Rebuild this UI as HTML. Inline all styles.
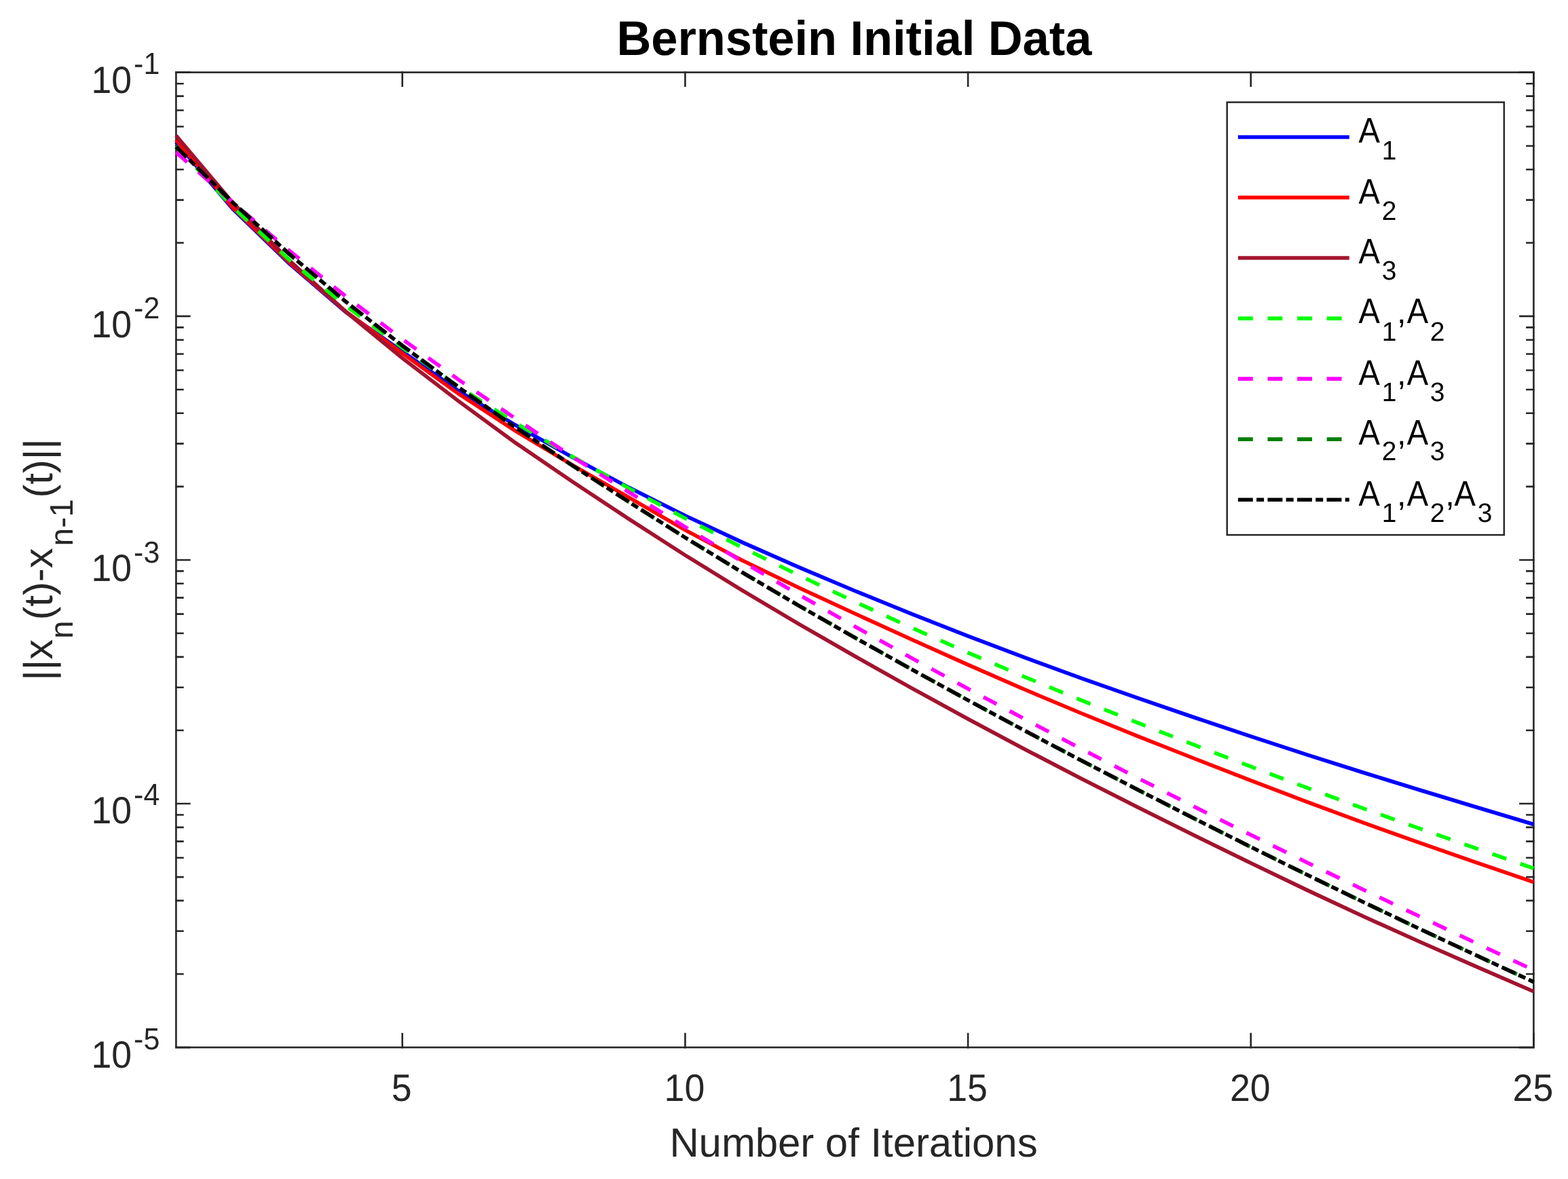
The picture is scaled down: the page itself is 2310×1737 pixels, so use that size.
<!DOCTYPE html>
<html lang="en"><head><meta charset="utf-8"><title>Bernstein Initial Data</title>
<style>html,body{margin:0;padding:0;background:#fff}svg{display:block}text{font-family:"Liberation Sans",sans-serif;font-kerning:none;text-rendering:geometricPrecision;white-space:pre}.ax{fill:#262626}.bk{fill:#000}.b{font-weight:bold}</style></head><body>
<svg xmlns="http://www.w3.org/2000/svg" width="2310" height="1737" viewBox="0 0 2310 1737">
<rect width="2310" height="1737" fill="#fff"/>
<g stroke="#262626" stroke-width="2.6" stroke-linecap="square" fill="none">
<path d="M592.73 1543.1V1523.1M592.73 106.6V126.6M1009.4 1543.1V1523.1M1009.4 106.6V126.6M1426.07 1543.1V1523.1M1426.07 106.6V126.6M1842.73 1543.1V1523.1M1842.73 106.6V126.6M2259.4 1543.1V1523.1M2259.4 106.6V126.6M259.4 106.6H279.4M2259.4 106.6H2239.4M259.4 465.91H279.4M2259.4 465.91H2239.4M259.4 357.82H269.4M2259.4 357.82H2249.4M259.4 294.6H269.4M2259.4 294.6H2249.4M259.4 249.74H269.4M2259.4 249.74H2249.4M259.4 214.94H269.4M2259.4 214.94H2249.4M259.4 186.51H269.4M2259.4 186.51H2249.4M259.4 162.47H269.4M2259.4 162.47H2249.4M259.4 141.65H269.4M2259.4 141.65H2249.4M259.4 123.28H269.4M2259.4 123.28H2249.4M259.4 824.98H279.4M2259.4 824.98H2239.4M259.4 716.89H269.4M2259.4 716.89H2249.4M259.4 653.66H269.4M2259.4 653.66H2249.4M259.4 608.8H269.4M2259.4 608.8H2249.4M259.4 574H269.4M2259.4 574H2249.4M259.4 545.57H269.4M2259.4 545.57H2249.4M259.4 521.53H269.4M2259.4 521.53H2249.4M259.4 500.71H269.4M2259.4 500.71H2249.4M259.4 482.34H269.4M2259.4 482.34H2249.4M259.4 1184.04H279.4M2259.4 1184.04H2239.4M259.4 1075.95H269.4M2259.4 1075.95H2249.4M259.4 1012.72H269.4M2259.4 1012.72H2249.4M259.4 967.86H269.4M2259.4 967.86H2249.4M259.4 933.06H269.4M2259.4 933.06H2249.4M259.4 904.63H269.4M2259.4 904.63H2249.4M259.4 880.59H269.4M2259.4 880.59H2249.4M259.4 859.77H269.4M2259.4 859.77H2249.4M259.4 841.4H269.4M2259.4 841.4H2249.4M259.4 1543.1H279.4M2259.4 1543.1H2239.4M259.4 1435.01H269.4M2259.4 1435.01H2249.4M259.4 1371.78H269.4M2259.4 1371.78H2249.4M259.4 1326.92H269.4M2259.4 1326.92H2249.4M259.4 1292.13H269.4M2259.4 1292.13H2249.4M259.4 1263.7H269.4M2259.4 1263.7H2249.4M259.4 1239.66H269.4M2259.4 1239.66H2249.4M259.4 1218.83H269.4M2259.4 1218.83H2249.4M259.4 1200.47H269.4M2259.4 1200.47H2249.4"/>
</g>
<rect x="259.4" y="106.6" width="2000" height="1436.5" fill="none" stroke="#262626" stroke-width="2.6"/>
<g fill="none" stroke-width="5.6" stroke-linejoin="miter" stroke-linecap="butt">
<polyline points="259.4,209.3 342.73,307.6 426.07,388.1 509.4,459.7 592.73,517.9 676.07,576.3 759.4,626.3 842.73,673.4 926.07,718.1 1009.4,759.7 1092.73,798.62 1176.07,835.39 1259.4,870.5 1342.73,904.36 1426.07,937.06 1509.4,968.6 1592.73,999.01 1676.07,1028.42 1759.4,1057 1842.73,1084.87 1926.07,1112.05 2009.4,1138.5 2092.73,1164.25 2176.07,1189.5 2259.4,1214.5" stroke="#0000ff"/>
<polyline points="259.4,205.9 342.73,305.6 426.07,386.5 509.4,458.9 592.73,520.4 676.07,580.4 759.4,634.9 842.73,684.8 926.07,732.6 1009.4,780.9 1092.73,825.17 1176.07,865.57 1259.4,904 1342.73,941.98 1426.07,979.42 1509.4,1015.8 1592.73,1050.77 1676.07,1084.55 1759.4,1117.5 1842.73,1149.9 1926.07,1181.61 2009.4,1212.4 2092.73,1242.14 2176.07,1271.11 2259.4,1299.7" stroke="#ff0000"/>
<polyline points="259.4,199.9 342.73,298.5 426.07,383.6 509.4,459.2 592.73,527.6 676.07,591.4 759.4,652.4 842.73,709.2 926.07,764.4 1009.4,818 1092.73,869.4 1176.07,918.86 1259.4,966.8 1342.73,1013.59 1426.07,1059.24 1509.4,1103.7 1592.73,1146.96 1676.07,1189.21 1759.4,1230.7 1842.73,1271.57 1926.07,1311.61 2009.4,1350.5 2092.73,1388.07 2176.07,1424.68 2259.4,1460.8" stroke="#a2142f"/>
<polyline points="259.4,215.3 342.73,304.7 426.07,382.9 509.4,450.5 592.73,512.1 676.07,570 759.4,622.8 842.73,672.5 926.07,719.1 1009.4,763.6 1092.73,806.24 1176.07,847.16 1259.4,886.6 1342.73,924.73 1426.07,961.6 1509.4,997.2 1592.73,1031.57 1676.07,1064.93 1759.4,1097.5 1842.73,1129.48 1926.07,1160.82 2009.4,1191.4 2092.73,1221.18 2176.07,1250.39 2259.4,1279.3" stroke="#00ff00" stroke-dasharray="21.9 21.7"/>
<polyline points="259.4,224.4 342.73,298 426.07,369.3 509.4,436.7 592.73,499.7 676.07,559.7 759.4,616.6 842.73,672.7 926.07,724.8 1009.4,776.5 1092.73,826.88 1176.07,875.61 1259.4,923 1342.73,969.33 1426.07,1014.73 1509.4,1059.3 1592.73,1103.11 1676.07,1146.18 1759.4,1188.5 1842.73,1230.08 1926.07,1270.96 2009.4,1311.2 2092.73,1350.86 2176.07,1390.13 2259.4,1429.2" stroke="#ff00ff" stroke-dasharray="21.9 21.7"/>
<polyline points="259.4,216.2 342.73,298 426.07,374.2 509.4,444.5 592.73,509.2 676.07,570.9 759.4,629.7 842.73,685.5 926.07,739.2 1009.4,792 1092.73,842.86 1176.07,891.83 1259.4,939.4 1342.73,985.97 1426.07,1031.63 1509.4,1076.4 1592.73,1120.3 1676.07,1163.42 1759.4,1205.9 1842.73,1247.81 1926.07,1289.05 2009.4,1329.5 2092.73,1369.09 2176.07,1408.05 2259.4,1446.7" stroke="#007f00" stroke-dasharray="21.9 21.7"/>
<polyline points="259.4,216.2 342.73,298 426.07,374.2 509.4,444.5 592.73,509.2 676.07,570.9 759.4,629.7 842.73,685.5 926.07,739.2 1009.4,792 1092.73,842.86 1176.07,891.83 1259.4,939.4 1342.73,985.97 1426.07,1031.63 1509.4,1076.4 1592.73,1120.3 1676.07,1163.42 1759.4,1205.9 1842.73,1247.81 1926.07,1289.05 2009.4,1329.5 2092.73,1369.09 2176.07,1408.05 2259.4,1446.7" stroke="#000000" stroke-dasharray="21.9 5.3 11 5.35"/>
</g>
<rect x="1807.7" y="150.65" width="408.1" height="637.45" fill="#fff" stroke="#262626" stroke-width="2.5"/>
<g fill="none" stroke-width="5.6">
<path d="M1823.9 202H1987.8" stroke="#0000ff"/>
<path d="M1823.9 291.03H1987.8" stroke="#ff0000"/>
<path d="M1823.9 380.06H1987.8" stroke="#a2142f"/>
<path d="M1823.9 469.09H1987.8" stroke="#00ff00" stroke-dasharray="21.9 21.7"/>
<path d="M1823.9 558.12H1987.8" stroke="#ff00ff" stroke-dasharray="21.9 21.7"/>
<path d="M1823.9 647.15H1987.8" stroke="#007f00" stroke-dasharray="21.9 21.7"/>
<path d="M1823.9 736.18H1987.8" stroke="#000000" stroke-dasharray="21.9 5.3 11 5.35"/>
</g>
<text class="bk"><tspan x="2001.54" y="210" font-size="52.22" textLength="31.41" lengthAdjust="spacingAndGlyphs">A</tspan><tspan x="2035.64" y="234.5" font-size="39.39" textLength="21.69" lengthAdjust="spacingAndGlyphs">1</tspan></text>
<text class="bk"><tspan x="2001.54" y="300.4" font-size="52.22" textLength="31.41" lengthAdjust="spacingAndGlyphs">A</tspan><tspan x="2035.64" y="324.4" font-size="39.39" textLength="21.69" lengthAdjust="spacingAndGlyphs">2</tspan></text>
<text class="bk"><tspan x="2001.54" y="387.5" font-size="52.22" textLength="31.41" lengthAdjust="spacingAndGlyphs">A</tspan><tspan x="2035.64" y="411.5" font-size="39.39" textLength="21.69" lengthAdjust="spacingAndGlyphs">3</tspan></text>
<text class="bk"><tspan x="2001.54" y="476.15" font-size="52.22" textLength="31.41" lengthAdjust="spacingAndGlyphs">A</tspan><tspan x="2035.64" y="501.5" font-size="39.39" textLength="21.69" lengthAdjust="spacingAndGlyphs">1</tspan><tspan x="2057.94" y="476.15" font-size="48.8">,</tspan><tspan x="2072.74" y="476.15" font-size="52.22" textLength="31.41" lengthAdjust="spacingAndGlyphs">A</tspan><tspan x="2106.84" y="501.5" font-size="39.39" textLength="21.69" lengthAdjust="spacingAndGlyphs">2</tspan></text>
<text class="bk"><tspan x="2001.54" y="566.6" font-size="52.22" textLength="31.41" lengthAdjust="spacingAndGlyphs">A</tspan><tspan x="2035.64" y="591.4" font-size="39.39" textLength="21.69" lengthAdjust="spacingAndGlyphs">1</tspan><tspan x="2057.94" y="566.6" font-size="48.8">,</tspan><tspan x="2072.74" y="566.6" font-size="52.22" textLength="31.41" lengthAdjust="spacingAndGlyphs">A</tspan><tspan x="2106.84" y="591.4" font-size="39.39" textLength="21.69" lengthAdjust="spacingAndGlyphs">3</tspan></text>
<text class="bk"><tspan x="2001.54" y="654.5" font-size="52.22" textLength="31.41" lengthAdjust="spacingAndGlyphs">A</tspan><tspan x="2035.64" y="678.35" font-size="39.39" textLength="21.69" lengthAdjust="spacingAndGlyphs">2</tspan><tspan x="2057.94" y="654.5" font-size="48.8">,</tspan><tspan x="2072.74" y="654.5" font-size="52.22" textLength="31.41" lengthAdjust="spacingAndGlyphs">A</tspan><tspan x="2106.84" y="678.35" font-size="39.39" textLength="21.69" lengthAdjust="spacingAndGlyphs">3</tspan></text>
<text class="bk"><tspan x="2001.54" y="745" font-size="52.22" textLength="31.41" lengthAdjust="spacingAndGlyphs">A</tspan><tspan x="2035.64" y="768.5" font-size="39.39" textLength="21.69" lengthAdjust="spacingAndGlyphs">1</tspan><tspan x="2057.94" y="745" font-size="48.8">,</tspan><tspan x="2072.74" y="745" font-size="52.22" textLength="31.41" lengthAdjust="spacingAndGlyphs">A</tspan><tspan x="2106.84" y="768.5" font-size="39.39" textLength="21.69" lengthAdjust="spacingAndGlyphs">2</tspan><tspan x="2129.14" y="745" font-size="48.8">,</tspan><tspan x="2142.54" y="745" font-size="52.22" textLength="31.41" lengthAdjust="spacingAndGlyphs">A</tspan><tspan x="2176.64" y="768.5" font-size="39.39" textLength="21.69" lengthAdjust="spacingAndGlyphs">3</tspan></text>
<text class="bk b"><tspan x="908.5" y="81.4" font-size="71.76" textLength="699.76" lengthAdjust="spacingAndGlyphs">Bernstein Initial Data</tspan></text>
<text class="ax"><tspan x="986.4" y="1704.4" font-size="59.85">Number of Iterations</tspan></text>
<text class="ax"><tspan x="576.83" y="1622" font-size="56.17" textLength="29.81" lengthAdjust="spacingAndGlyphs">5</tspan></text>
<text class="ax"><tspan x="978.59" y="1622" font-size="56.17" textLength="59.62" lengthAdjust="spacingAndGlyphs">10</tspan></text>
<text class="ax"><tspan x="1395.26" y="1622" font-size="56.17" textLength="59.62" lengthAdjust="spacingAndGlyphs">15</tspan></text>
<text class="ax"><tspan x="1811.92" y="1622" font-size="56.17" textLength="59.62" lengthAdjust="spacingAndGlyphs">20</tspan></text>
<text class="ax"><tspan x="2228.59" y="1622" font-size="56.17" textLength="59.62" lengthAdjust="spacingAndGlyphs">25</tspan></text>
<text class="ax"><tspan x="134.4" y="137" font-size="56.01" textLength="59.62" lengthAdjust="spacingAndGlyphs">10</tspan><tspan x="197.1" y="108.9" font-size="44.93" textLength="38.23" lengthAdjust="spacingAndGlyphs">-1</tspan></text>
<text class="ax"><tspan x="134.4" y="497" font-size="56.01" textLength="59.62" lengthAdjust="spacingAndGlyphs">10</tspan><tspan x="197.1" y="468.9" font-size="44.93" textLength="38.23" lengthAdjust="spacingAndGlyphs">-2</tspan></text>
<text class="ax"><tspan x="134.4" y="856" font-size="56.01" textLength="59.62" lengthAdjust="spacingAndGlyphs">10</tspan><tspan x="197.1" y="829.1" font-size="44.93" textLength="38.23" lengthAdjust="spacingAndGlyphs">-3</tspan></text>
<text class="ax"><tspan x="134.4" y="1213" font-size="56.01" textLength="59.62" lengthAdjust="spacingAndGlyphs">10</tspan><tspan x="197.1" y="1185.9" font-size="44.93" textLength="38.23" lengthAdjust="spacingAndGlyphs">-4</tspan></text>
<text class="ax"><tspan x="134.4" y="1573" font-size="56.01" textLength="59.62" lengthAdjust="spacingAndGlyphs">10</tspan><tspan x="197.1" y="1546.1" font-size="44.93" textLength="38.23" lengthAdjust="spacingAndGlyphs">-5</tspan></text>
<text class="ax" transform="translate(77 1002.8) rotate(-90)"><tspan x="0" y="0" font-size="59.8">||x</tspan><tspan x="61.8" y="30.2" font-size="47.85">n</tspan><tspan x="89.2" y="0" font-size="59.8">(t)-x</tspan><tspan x="198.4" y="30.2" font-size="47.85">n-1</tspan><tspan x="269.2" y="0" font-size="59.8">(t)||</tspan></text>
</svg></body></html>
